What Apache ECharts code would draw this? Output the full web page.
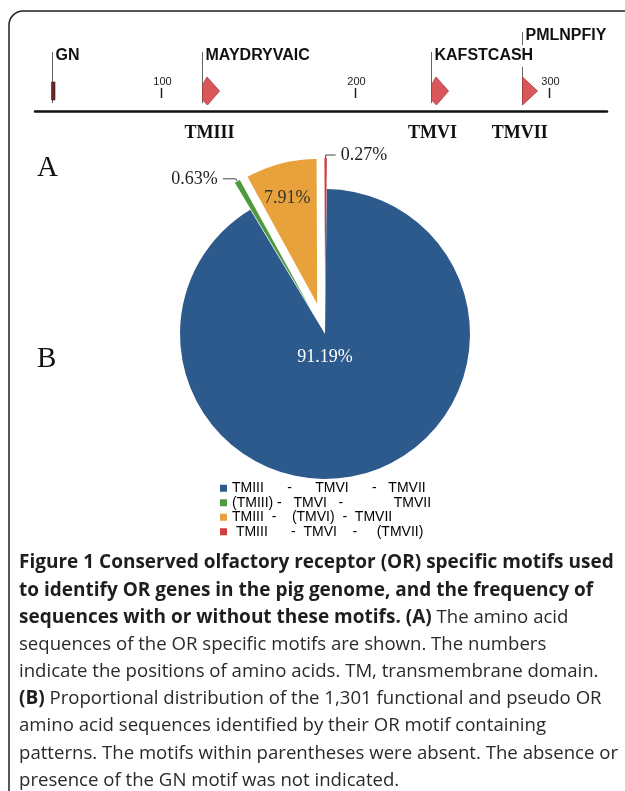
<!DOCTYPE html>
<html><head><meta charset="utf-8">
<script src="https://cdn.jsdelivr.net/npm/echarts@6/dist/echarts.min.js"></script>
<style>html,body{margin:0;padding:0;background:#fff}#c{width:625px;height:791px}</style>
</head><body><div id="c"></div>
<script>
// ---- data ----
const tickValues = [100, 200, 300];
const motifPositions = [44, 121, 239, 286];
const motifNames = ['GN', 'MAYDRYVAIC', 'KAFSTCASH', 'PMLNPFIY'];
const tmNames = ['TMIII', 'TMVI', 'TMVII'];
const tmPositions = [125, 240, 285];
const pieNames = [
  'TMIII      -      TMVI      -   TMVII',
  '(TMIII) -   TMVI   -             TMVII',
  'TMIII  -    (TMVI)  -  TMVII',
  ' TMIII      -  TMVI    -     (TMVII)'
];
const pieValues = [91.19, 0.63, 7.91, 0.27];
const captionLines = [
  '{b|Figure 1 Conserved olfactory receptor (OR) specific motifs used}',
  '{b|to identify OR genes in the pig genome, and the frequency of}',
  '{b|sequences with or without these motifs. (A)}{r| The amino acid}',
  '{r|sequences of the OR specific motifs are shown. The numbers}',
  '{r|indicate the positions of amino acids. TM, transmembrane domain.}',
  '{b|(B)}{r| Proportional distribution of the 1,301 functional and pseudo OR}',
  '{r|amino acid sequences identified by their OR motif containing}',
  '{r|patterns. The motifs within parentheses were absent. The absence or}',
  '{r|presence of the GN motif was not indicated.}'
];
// ---- styles ----
const pieColors = ['#2D5A8C', '#4E9A3F', '#E9A23B', '#D23B3F'];
const labelColors = ['#ffffff', '#222222', '#333333', '#222222'];
const labelPos = ['center', 'outside', 'inside', 'outside'];

const chart = echarts.init(document.getElementById('c'), null, {renderer: 'canvas'});

const graphics = [
  {type: 'rect', shape: {x: 9, y: 11, width: 680, height: 860, r: 14},
   style: {fill: 'none', stroke: '#222', lineWidth: 1.5}, silent: true},
  {type: 'text', x: 37, y: 168, style: {text: 'A', fontFamily: 'Liberation Serif', fontSize: 29, fill: '#111', verticalAlign: 'middle'}},
  {type: 'text', x: 37, y: 359, style: {text: 'B', fontFamily: 'Liberation Serif', fontSize: 29, fill: '#111', verticalAlign: 'middle'}}
];
captionLines.forEach(function (t, i) {
  graphics.push({
    type: 'text', x: 19, y: 563 + i * 27.2,
    style: {
      text: t, verticalAlign: 'middle', fill: '#222',
      rich: {
        b: {fontFamily: 'Open Sans', fontWeight: 'bold', fontSize: 19, fill: '#1e1e1e'},
        r: {fontFamily: 'Open Sans', fontSize: 18.6, fill: '#2a2a2a'}
      }
    }
  });
});

const option = {
  animation: false,
  backgroundColor: '#fff',
  grid: {left: 35, right: 18, top: 20, height: 91},
  xAxis: {type: 'value', min: 35, max: 330,
    axisLine: {show: true, onZero: false, lineStyle: {color: '#111', width: 2.5}},
    axisTick: {show: false}, axisLabel: {show: false}, splitLine: {show: false}},
  yAxis: {type: 'value', min: 0, max: 1, show: false},
  legend: {
    orient: 'vertical', left: 215, top: 476, itemGap: 0, itemWidth: 7, itemHeight: 7,
    icon: 'rect', selectedMode: false,
    textStyle: {fontFamily: 'Liberation Sans', fontSize: 14, color: '#000', lineHeight: 14.5},
    data: pieNames
  },
  graphic: graphics,
  series: [
    {
      type: 'custom', silent: true, clip: false,
      data: tickValues.map(function (v) { return [v]; }),
      renderItem: function (params, api) {
        const p = api.coord([api.value(0), 0]);
        const x = Math.round(p[0]) + 0.5, b = p[1];
        return {type: 'group', children: [
          {type: 'line', shape: {x1: x, y1: b - 23, x2: x, y2: b - 13}, style: {stroke: '#222', lineWidth: 1.5}},
          {type: 'text', x: x + 1, y: b - 24, style: {text: String(tickValues[params.dataIndex]), fontFamily: 'Liberation Sans', fontSize: 11, fill: '#222', align: 'center', verticalAlign: 'bottom'}}
        ]};
      }
    },
    {
      type: 'custom', silent: true, clip: false,
      data: motifPositions.map(function (v) { return [v]; }),
      renderItem: function (params, api) {
        const i = params.dataIndex;
        const p = api.coord([api.value(0), 0]);
        const x = Math.round(p[0]) + 0.5, b = p[1];
        const high = (i === 3);
        const top = high ? b - 79 : b - 59;
        const ly = high ? b - 75 : b - 55;
        const ch = [
          {type: 'line', z2: 1, shape: {x1: x, y1: top, x2: x, y2: b - 8}, style: {stroke: '#666', lineWidth: 1}}
        ];
        if (i === 0) {
          ch.push({type: 'rect', z2: 2, shape: {x: x - 1, y: b - 29, width: 3.5, height: 18}, style: {fill: '#6B2626', stroke: '#3a1a1a', lineWidth: 0.6}});
        } else if (i === 3) {
          ch.push({type: 'polygon', z2: 2, shape: {points: [[x, b - 34], [x + 15, b - 20], [x, b - 6]]}, style: {fill: '#D9575B', stroke: '#A33A3C', lineWidth: 0.8}});
        } else {
          ch.push({type: 'polygon', z2: 2, shape: {points: [[x, b - 26], [x + 4.5, b - 34], [x + 17, b - 20], [x + 5, b - 6], [x, b - 11]]}, style: {fill: '#D9575B', stroke: '#A33A3C', lineWidth: 0.8}});
        }
        ch.push({type: 'text', z2: 10, x: x + 2, y: ly, style: {text: motifNames[i], fontFamily: 'Liberation Sans', fontWeight: 'bold', fontSize: 16, fill: '#111', align: 'left', verticalAlign: 'middle', backgroundColor: '#fff', padding: [3, 1, 3, 1]}});
        return {type: 'group', children: ch};
      }
    },
    {
      type: 'custom', silent: true, clip: false,
      data: tmPositions.map(function (v) { return [v]; }),
      renderItem: function (params, api) {
        const p = api.coord([api.value(0), 0]);
        return {type: 'text', x: p[0], y: p[1] + 22.5, style: {text: tmNames[params.dataIndex], fontFamily: 'Liberation Serif', fontWeight: 'bold', fontSize: 18, fill: '#111', align: 'center', verticalAlign: 'middle'}};
      }
    },
    {
      type: 'pie', center: [325, 334], radius: 145, startAngle: 89.3, clockwise: true,
      selectedMode: 'multiple', selectedOffset: 31, avoidLabelOverlap: false,
      emphasis: {disabled: true}, silent: true,
      select: {itemStyle: {borderWidth: 0}},
      itemStyle: {borderWidth: 0},
      label: {fontFamily: 'Liberation Serif', fontSize: 18, formatter: function (p) { return p.value.toFixed(2) + '%'; }},
      labelLine: {show: true, length: 3, length2: 12, lineStyle: {color: '#444', width: 1}},
      data: pieValues.map(function (v, i) {
        return {
          name: pieNames[i], value: v, selected: i > 0,
          itemStyle: {color: pieColors[i]},
          label: {position: labelPos[i], color: labelColors[i]},
          labelLine: {show: labelPos[i] === 'outside', length2: i === 3 ? 10 : 13}
        };
      }),
      labelLayout: function (params) {
        const i = params.dataIndex;
        if (i === 0) return {dy: 23};
        if (i === 2) return {dx: -11, dy: -33};
        return {};
      }
    }
  ]
};
chart.setOption(option);
</script></body></html>
